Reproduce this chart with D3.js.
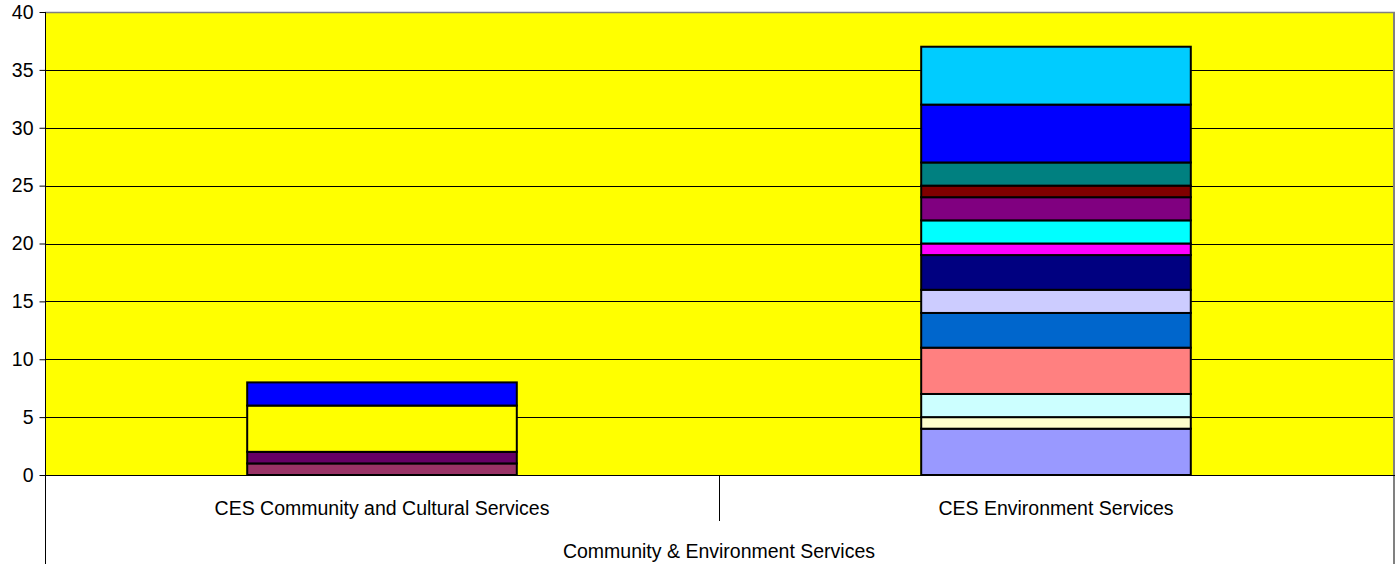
<!DOCTYPE html>
<html><head><meta charset="utf-8">
<script src="https://cdn.jsdelivr.net/npm/d3@7"></script>
<style>html,body{margin:0;padding:0;background:#fff;}svg{display:block;font-family:"Liberation Sans",Arial,sans-serif;}</style>
</head><body>
<svg id="c" width="1398" height="564"></svg>
<script>
const categories = ["CES Community and Cultural Services", "CES Environment Services"];
const groupLabel = "Community & Environment Services";
const seriesNames = ["S1","S2","S3","S4","S5","S6","S7","S8","S9","S10","S11","S12","S13","S14","S15","S16","S17"];
const seriesColors = ["#9999FF","#993366","#FFFFCC","#CCFFFF","#660066","#FF8080","#0066CC","#CCCCFF","#000080","#FF00FF","#FFFF00","#00FFFF","#800080","#800000","#008080","#0000FF","#00CCFF"];
const valuesCommunity = [0,1,0,0,1,0,0,0,0,0,4,0,0,0,0,2,0];
const valuesEnvironment = [4,0,1,2,0,4,3,2,3,1,0,2,2,1,2,5,5];
const yTicks = [0,5,10,15,20,25,30,35,40];

(function () {
const svg = d3.select("#c");
const L = 45, R = 1393, T = 12, B = 475, AB = 564;
const FS = 19.5;

const rows = categories.map((c, i) => {
  const r = {cat: c};
  const vals = i === 0 ? valuesCommunity : valuesEnvironment;
  seriesNames.forEach((s, j) => r[s] = vals[j]);
  return r;
});
const stacked = d3.stack().keys(seriesNames)(rows);

const x = d3.scaleBand().domain(categories).range([L, R]).paddingInner(0.6).paddingOuter(0.3);
const y = d3.scaleLinear().domain([0, 40]).range([B, T]);

svg.append("rect").attr("x", L).attr("y", T).attr("width", R - L).attr("height", B - T).attr("fill", "#FFFF00");

svg.append("g").selectAll("line").data(yTicks.filter(t => t > 0 && t < 40)).join("line")
  .attr("x1", L).attr("x2", R).attr("y1", d => Math.round(y(d)) + 0.5).attr("y2", d => Math.round(y(d)) + 0.5)
  .attr("stroke", "#000").attr("stroke-width", 1);

svg.append("g").selectAll("g").data(stacked).join("g")
  .attr("fill", (d, i) => seriesColors[i])
  .selectAll("rect").data(d => d.filter(p => p[1] - p[0] > 0)).join("rect")
  .attr("x", d => x(d.data.cat))
  .attr("width", x.bandwidth())
  .attr("y", d => y(d[1]))
  .attr("height", d => y(d[0]) - y(d[1]))
  .attr("stroke", "#000").attr("stroke-width", 2);

svg.append("line").attr("x1", L).attr("x2", R + 2).attr("y1", T + 0.5).attr("y2", T + 0.5).attr("stroke", "#808080").attr("stroke-width", 1.5);
svg.append("line").attr("x1", R + 1).attr("x2", R + 1).attr("y1", T).attr("y2", AB).attr("stroke", "#808080").attr("stroke-width", 2);
svg.append("line").attr("x1", L).attr("x2", R + 2).attr("y1", B + 0.5).attr("y2", B + 0.5).attr("stroke", "#000").attr("stroke-width", 1);

const yAxis = d3.axisLeft(y).tickValues(yTicks).tickSize(6).tickPadding(6);
const ga = svg.append("g").attr("transform", `translate(${L + 0.5},0)`).call(yAxis);
ga.select(".domain").remove();
ga.selectAll(".tick line").attr("stroke", "#000");
ga.selectAll(".tick text").attr("font-size", FS).attr("fill", "#000").attr("font-family", '"Liberation Sans",Arial,sans-serif');
svg.append("line").attr("x1", L + 0.5).attr("x2", L + 0.5).attr("y1", T).attr("y2", AB).attr("stroke", "#000").attr("stroke-width", 1);

const divX = (x(categories[0]) + x.bandwidth() + x(categories[1])) / 2;
svg.append("line").attr("x1", Math.round(divX) + 0.5).attr("x2", Math.round(divX) + 0.5).attr("y1", B).attr("y2", 521).attr("stroke", "#000").attr("stroke-width", 1);
svg.append("g").selectAll("text").data(categories).join("text")
  .attr("x", d => x(d) + x.bandwidth() / 2).attr("y", 515)
  .attr("text-anchor", "middle").attr("font-size", FS).attr("fill", "#000").text(d => d);
svg.append("text").attr("x", (L + R) / 2).attr("y", 558).attr("text-anchor", "middle")
  .attr("font-size", FS).attr("fill", "#000").text(groupLabel);
})();
</script>
</body></html>
